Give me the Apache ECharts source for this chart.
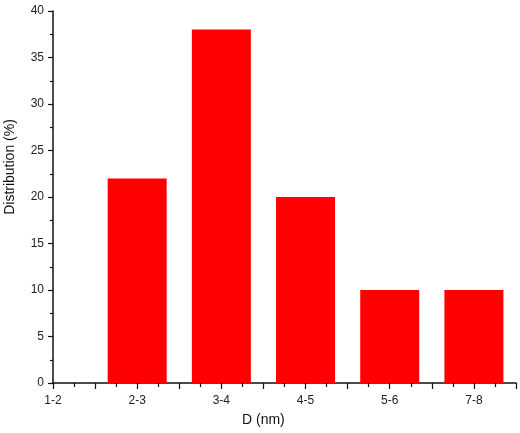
<!DOCTYPE html>
<html>
<head>
    <meta charset="utf-8">
    <title>ECharts</title>
    <script src="https://cdn.jsdelivr.net/npm/echarts@6/dist/echarts.min.js"></script>
</head>
<body style="margin:0;">

<div id="main" style="width: 520px;height:433px;"></div>

<script type="text/javascript">
    // size ranges, and the share of particles in each one
    var sizes = ['1-2', '2-3', '3-4', '4-5', '5-6', '7-8'];
    var distribution = [0, 22, 38, 20, 10, 10];
    var yTicks = [0, 5, 10, 15, 20, 25, 30, 35, 40];

    var myChart = echarts.init(document.getElementById('main'));

    // x is a value axis so "1-2" sits right on the y axis like in the original
    var points = [];
    for (var i = 0; i < sizes.length; i++) {
        points.push([i, distribution[i]]);
    }

    var axisColor = '#111';
    var font = 'Liberation Sans, Arial, sans-serif';

    myChart.setOption({
        animation: false,
        grid: {
            left: 53,
            right: 4,
            top: 11,
            bottom: 50
        },
        xAxis: {
            type: 'value',
            min: 0,
            max: 5.5,
            interval: 0.5,
            splitLine: { show: false },
            axisLine: { lineStyle: { color: axisColor, width: 1.5 } },
            axisTick: { show: true, length: 6, lineStyle: { color: axisColor, width: 1.2 } },
            minorTick: { show: true, splitNumber: 2, length: 4, lineStyle: { color: axisColor, width: 1.2 } },
            axisLabel: {
                margin: 12,
                fontSize: 12,
                fontFamily: font,
                color: '#222',
                showMaxLabel: false,
                formatter: function (v) {
                    return (Math.abs(v - Math.round(v)) < 1e-6) ? (sizes[Math.round(v)] || '') : '';
                }
            }
        },
        yAxis: {
            type: 'value',
            min: yTicks[0],
            max: yTicks[yTicks.length - 1],
            interval: 5,
            splitLine: { show: false },
            axisLine: { show: true, lineStyle: { color: axisColor, width: 1.5 } },
            axisTick: { show: true, length: 5, lineStyle: { color: axisColor, width: 1.2 } },
            minorTick: { show: true, splitNumber: 2, length: 3, lineStyle: { color: axisColor, width: 1.2 } },
            axisLabel: {
                margin: 9,
                fontSize: 12,
                fontFamily: font,
                color: '#222'
            }
        },
        graphic: [
            {
                type: 'text',
                left: 242,
                top: 413,
                style: { text: 'D (nm)', fontSize: 14, fontFamily: font, fill: '#111' }
            },
            {
                type: 'text',
                x: 10,
                y: 167,
                rotation: Math.PI / 2,
                style: {
                    text: 'Distribution (%)', fontSize: 14, fontFamily: font, fill: '#111',
                    align: 'center', verticalAlign: 'middle'
                }
            }
        ],
        series: [{
            type: 'bar',
            data: points,
            barWidth: 59,
            itemStyle: { color: '#ff0000' }
        }]
    });
</script>
</body>
</html>
